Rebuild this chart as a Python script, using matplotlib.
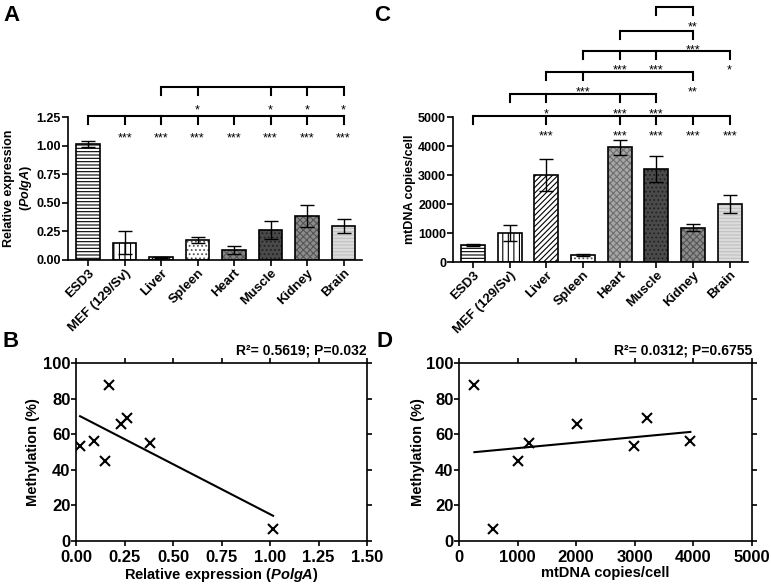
import numpy as np
import matplotlib
matplotlib.use("Agg")
import matplotlib.pyplot as plt

plt.rcParams['font.family'] = ['Liberation Sans', 'DejaVu Sans']
plt.rcParams['font.weight'] = 'bold'
plt.rcParams['mathtext.fontset'] = 'custom'
plt.rcParams['mathtext.it'] = 'Liberation Sans:italic:bold'
plt.rcParams['mathtext.rm'] = 'Liberation Sans:bold'
plt.rcParams['hatch.linewidth'] = 0.8

# ---------------- data ----------------
categories = ["ESD3", "MEF (129/Sv)", "Liver", "Spleen", "Heart", "Muscle", "Kidney", "Brain"]

expr_mean = [1.015, 0.15, 0.025, 0.175, 0.09, 0.265, 0.385, 0.30]
expr_err = [0.025, 0.10, 0.005, 0.025, 0.035, 0.08, 0.10, 0.06]

mtdna_mean = [590, 1000, 2990, 250, 3950, 3200, 1190, 2000]
mtdna_err = [40, 270, 550, 30, 270, 450, 120, 300]

# significance brackets: (reference index, [(target index, stars), ...])
brackets_A = [
    (0, [(1, "***"), (2, "***"), (3, "***"), (4, "***"), (5, "***"), (6, "***"), (7, "***")]),
    (2, [(3, "*"), (5, "*"), (6, "*"), (7, "*")]),
]
levels_A = [1.26, 1.51]

brackets_C = [
    (0, [(2, "***"), (4, "***"), (5, "***"), (6, "***"), (7, "***")]),
    (1, [(2, "*"), (4, "***"), (5, "***")]),
    (2, [(3, "***"), (6, "**")]),
    (3, [(4, "***"), (5, "***"), (7, "*")]),
    (4, [(6, "***")]),
    (5, [(6, "**")]),
]
levels_C = [5030, 5790, 6550, 7275, 7965, 8790]

# scatter panels
b_expr = [0.021, 0.093, 0.148, 0.169, 0.234, 0.262, 0.382, 1.016]
b_meth = [53.6, 56.2, 45.1, 87.8, 65.8, 69.2, 55.3, 6.6]

d_mtdna = [263, 577, 1006, 1189, 2006, 2989, 3206, 3949]
d_meth = [87.8, 6.6, 45.1, 55.3, 65.8, 53.6, 69.2, 56.2]

stats_B = "R\u00b2= 0.5619; P=0.032"
stats_D = "R\u00b2= 0.0312; P=0.6755"

# bar styling: (facecolor, hatch, hatchcolor)
styles = [
    ("white", "-----", "black"),
    ("white", "|||", "black"),
    ("white", "//////", "black"),
    ("white", "....", "#555555"),
    ("#a6a6a6", "xxxxx", "#6f6f6f"),
    ("#4a4a4a", "....", "#222222"),
    ("#8c8c8c", "xxxxx", "#555555"),
    ("#dcdcdc", "-----", "#c0c0c0"),
]
styles_A = list(styles)
styles_A[4] = ("#858585", "xxxxx", "#555555")

fig = plt.figure(figsize=(7.71, 5.85), dpi=100)

axA = fig.add_axes([0.0882, 0.5556, 0.381, 0.2444])
axC = fig.add_axes([0.5875, 0.5521, 0.3826, 0.2479])
axB = fig.add_axes([0.0986, 0.0752, 0.3774, 0.3043])
axD = fig.add_axes([0.5953, 0.0752, 0.3800, 0.3043])

LW = 1.2


def bar_panel(ax, means, errs, stl, ylim, yticks, yticklabels, ylabel, ylab_x):
    x = np.arange(len(categories))
    for i in range(len(categories)):
        fc, h, hc = stl[i]
        ax.bar(x[i], means[i], width=0.65, color=fc, edgecolor="none", zorder=2)
        ax.bar(x[i], means[i], width=0.65, fill=False, hatch=h, edgecolor=hc, linewidth=0, zorder=3)
        ax.bar(x[i], means[i], width=0.65, fill=False, edgecolor="black", linewidth=LW, zorder=4)
    ax.errorbar(x, means, yerr=errs, fmt="none", ecolor="black", elinewidth=1.0,
                capsize=5, capthick=1.0, zorder=5)
    ax.set_xlim(-0.55, 7.5)
    ax.set_ylim(*ylim)
    ax.set_yticks(yticks)
    ax.set_yticklabels(yticklabels, fontsize=9, fontweight="bold")
    ax.set_xticks(x)
    ax.set_xticklabels(categories, rotation=45, ha="right", rotation_mode="anchor",
                       fontsize=9.5, fontweight="bold")
    for s in ["top", "right"]:
        ax.spines[s].set_visible(False)
    for s in ["left", "bottom"]:
        ax.spines[s].set_linewidth(LW)
    ax.tick_params(direction="out", length=4, width=LW, pad=1)
    ax.set_ylabel(ylabel, fontsize=9, fontweight="bold", va="center", linespacing=1.3)
    ax.yaxis.set_label_coords(ylab_x, 0.5)


def draw_brackets(ax, brackets, levels, tick_len, star_off):
    for (ref, targets), lvl in zip(brackets, levels):
        idx = [ref] + [t for t, _ in targets]
        ax.plot([min(idx), max(idx)], [lvl, lvl], color="black", lw=1.5,
                clip_on=False, solid_capstyle="butt")
        for i in idx:
            ax.plot([i, i], [lvl, lvl - tick_len], color="black", lw=1.5, clip_on=False)
        for t, s in targets:
            ax.annotate(s, xy=(t, lvl), xytext=(0, -star_off), textcoords="offset points",
                        ha="center", va="baseline", fontsize=9, fontweight="normal",
                        annotation_clip=False)


bar_panel(axA, expr_mean, expr_err, styles_A, (0, 1.25),
          [0, 0.25, 0.5, 0.75, 1.0, 1.25],
          ["0.00", "0.25", "0.50", "0.75", "1.00", "1.25"],
          "Relative expression\n($\\it{PolgA}$)", -0.168)
draw_brackets(axA, brackets_A, levels_A, 0.07, 18.5)

bar_panel(axC, mtdna_mean, mtdna_err, styles, (0, 5000),
          [0, 1000, 2000, 3000, 4000, 5000],
          ["0", "1000", "2000", "3000", "4000", "5000"],
          "mtDNA copies/cell", -0.145)
draw_brackets(axC, brackets_C, levels_C, 280, 16.5)


def scatter_panel(ax, xs, ys, xlim, xticks, xticklabels, xlabel, stats, ylab_x):
    ax.plot(xs, ys, linestyle="none", marker="x", color="black", markersize=6.5,
            markeredgewidth=1.5, zorder=3)
    k, b = np.polyfit(xs, ys, 1)
    xx = np.array([min(xs), max(xs)])
    ax.plot(xx, k * xx + b, color="black", lw=1.5, zorder=2)
    ax.set_xlim(*xlim)
    ax.set_ylim(0, 100)
    ax.set_xticks(xticks)
    ax.set_xticklabels(xticklabels, fontsize=12, fontweight="bold")
    ax.set_yticks([0, 20, 40, 60, 80, 100])
    ax.set_yticklabels(["0", "20", "40", "60", "80", "100"], fontsize=12, fontweight="bold")
    for s in ax.spines.values():
        s.set_linewidth(LW)
    ax.tick_params(direction="out", length=3.5, width=LW,
                   top=True, right=True, labeltop=False, labelright=False)
    ax.tick_params(axis="x", pad=3)
    ax.tick_params(axis="y", pad=0.5)
    ax.set_xlabel(xlabel, fontsize=10.5, fontweight="bold", labelpad=1)
    ax.set_ylabel("Methylation (%)", fontsize=10.5, fontweight="bold", va="center")
    ax.yaxis.set_label_coords(ylab_x, 0.5)
    ax.text(1.0, 1.03, stats, transform=ax.transAxes, ha="right", va="bottom",
            fontsize=10, fontweight="bold")


scatter_panel(axB, b_expr, b_meth, (0, 1.5),
              [0, 0.25, 0.5, 0.75, 1.0, 1.25, 1.5],
              ["0.00", "0.25", "0.50", "0.75", "1.00", "1.25", "1.50"],
              "Relative expression ($\\it{PolgA}$)", stats_B, -0.148)
scatter_panel(axD, d_mtdna, d_meth, (0, 5000),
              [0, 1000, 2000, 3000, 4000, 5000],
              ["0", "1000", "2000", "3000", "4000", "5000"],
              "mtDNA copies/cell", stats_D, -0.14)

for lbl, (px, py) in zip("ABCD", [(3, 5), (3, 331), (374, 5), (376, 331)]):
    fig.text(px / 771, 1 - py / 585, lbl, fontsize=16, fontweight="bold",
             ha="left", va="top")

fig.savefig("out.png", dpi=100)
